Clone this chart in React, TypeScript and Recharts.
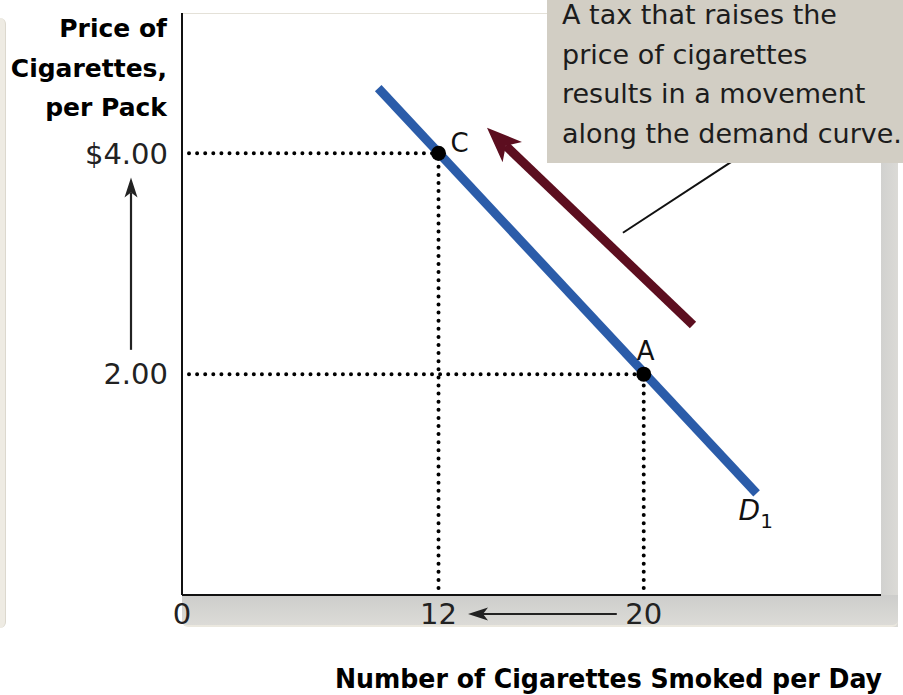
import { LineChart, Line, XAxis, YAxis, ReferenceLine, ReferenceDot } from 'recharts';

// market points: quantity smoked per day and price per pack
const pointNames = ['C', 'A'];
const pointQty = [12, 20];
const pointPrice = [4, 2];

// demand curve D1 (straight line through C and A)
const demandQty = [9.65, 24.4];
const demandPrice = [4.59, 0.92];

// movement along the curve caused by the tax (tail, head)
const moveQty = [21.92, 13.89];
const movePrice = [2.445, 4.23];

// pointer from the note down to the movement arrow
const calloutQty = [23.4, 19.19];
const calloutPrice = [3.92, 3.28];

// small arrows next to the axis labels
const priceRise = [2.22, 3.78];
const qtyFall = [18.95, 13.15];

const priceTicks = [2, 4];
const priceTickLabels: Record<number, string> = { 2: '2.00', 4: '$4.00' };
const qtyTicks = [12, 20];

const noteLines = [
  'A tax that raises the',
  'price of cigarettes',
  'results in a movement',
  'along the demand curve.',
];

// the quantity axis is not drawn to scale: its origin sits at this value and reads "0"
const QTY_START = 2;
const QTY_END = 29.25;
const PRICE_MAX = 5.27;

const W = 903;
const H = 695;
const PLOT = { left: 182, right: 881, top: 13, bottom: 595 };

const BLUE = '#2b5ca9';
const MAROON = '#5c0e1f';
const FONT = '"DejaVu Sans", sans-serif';

const xPx = (q: number) =>
  PLOT.left + ((q - QTY_START) / (QTY_END - QTY_START)) * (PLOT.right - PLOT.left);
const yPx = (p: number) => PLOT.bottom - (p / PRICE_MAX) * (PLOT.bottom - PLOT.top);

const demandData = demandQty.map((q, i) => ({ q, p: demandPrice[i] }));

// dotted guide, pulled back a little from the axis end (x1, y1)
const DottedGuide = (props: any) => {
  const { x1, y1, x2, y2 } = props;
  const len = Math.hypot(x2 - x1, y2 - y1) || 1;
  const gap = 7;
  const sx = x1 + ((x2 - x1) / len) * gap;
  const sy = y1 + ((y2 - y1) / len) * gap;
  return (
    <line
      x1={sx}
      y1={sy}
      x2={x2}
      y2={y2}
      stroke="#000"
      strokeWidth={4}
      strokeLinecap="round"
      strokeDasharray="0 8.1"
    />
  );
};

const MoveArrow = (props: any) => {
  const { x1, y1, x2, y2 } = props;
  const len = Math.hypot(x2 - x1, y2 - y1) || 1;
  const ux = (x2 - x1) / len;
  const uy = (y2 - y1) / len;
  const px = -uy;
  const py = ux;
  const headLen = 35;
  const halfW = 14;
  const notch = 26;
  const bx = x2 - ux * headLen;
  const by = y2 - uy * headLen;
  const nx = x2 - ux * notch;
  const ny = y2 - uy * notch;
  return (
    <g>
      <line x1={x1} y1={y1} x2={nx} y2={ny} stroke={MAROON} strokeWidth={9} />
      <polygon
        points={`${x2},${y2} ${bx + px * halfW},${by + py * halfW} ${nx},${ny} ${bx - px * halfW},${by - py * halfW}`}
        fill={MAROON}
      />
    </g>
  );
};

const CalloutLine = (props: any) => {
  const { x1, y1, x2, y2 } = props;
  return <line x1={x1} y1={y1} x2={x2} y2={y2} stroke="#111" strokeWidth={2} />;
};

const labelOffset: Record<string, [number, number]> = { C: [21, -1], A: [2, -14] };

const PointDot = (name: string) => (props: any) => {
  const { cx, cy } = props;
  const [dx, dy] = labelOffset[name];
  return (
    <g>
      <circle cx={cx} cy={cy} r={7.5} fill="#000" />
      <text
        x={cx + dx}
        y={cy + dy}
        textAnchor="middle"
        fontFamily={FONT}
        fontSize={26}
        fill="#111"
      >
        {name}
      </text>
    </g>
  );
};

const CurveName = (props: any) => {
  const { cx, cy } = props;
  return (
    <text x={cx - 18} y={cy + 27} fontFamily={FONT} fontSize={28} fontStyle="italic" fill="#111">
      D
      <tspan fontStyle="normal" fontSize={20} dy={8}>
        1
      </tspan>
    </text>
  );
};

const Arrow = ({ x1, y1, x2, y2 }: { x1: number; y1: number; x2: number; y2: number }) => {
  const len = Math.hypot(x2 - x1, y2 - y1) || 1;
  const ux = (x2 - x1) / len;
  const uy = (y2 - y1) / len;
  const px = -uy;
  const py = ux;
  const bx = x2 - ux * 20;
  const by = y2 - uy * 20;
  const nx = x2 - ux * 15;
  const ny = y2 - uy * 15;
  return (
    <g>
      <line x1={x1} y1={y1} x2={nx} y2={ny} stroke="#222" strokeWidth={2.2} />
      <polygon
        points={`${x2},${y2} ${bx + px * 6.5},${by + py * 6.5} ${nx},${ny} ${bx - px * 6.5},${by - py * 6.5}`}
        fill="#222"
      />
    </g>
  );
};

const tickStyle = { fontFamily: FONT, fontSize: 29, fill: '#222' };

export default function App() {
  return (
    <div style={{ position: 'absolute', left: 0, top: 0, width: W, height: H, background: '#fff' }}>
      {/* panel edge on the far left */}
      <div
        style={{
          position: 'absolute',
          left: 0,
          top: 18,
          width: 5,
          height: 610,
          background: '#eeebe3',
          borderRight: '1px solid #dcd8ce',
          borderRadius: '0 6px 6px 0',
        }}
      />
      {/* drop shadow of the graph panel */}
      <div
        style={{
          position: 'absolute',
          left: PLOT.right,
          top: 30,
          width: 17,
          height: 597,
          background: 'linear-gradient(to right, #d1d1cf, #dbdad6)',
        }}
      />
      <div
        style={{
          position: 'absolute',
          left: PLOT.left,
          top: PLOT.bottom,
          width: 898 - PLOT.left,
          height: 30,
          background: 'linear-gradient(to bottom, #cdcdcb, #dcdbd7)',
          borderBottom: '2px solid #ebe8df',
          borderRadius: '0 0 6px 6px',
        }}
      />
      <div
        style={{
          position: 'absolute',
          left: PLOT.left,
          top: PLOT.top,
          width: PLOT.right - PLOT.left,
          height: PLOT.bottom - PLOT.top,
          background: '#fff',
          borderTop: '1px solid #e4e1d8',
          boxSizing: 'border-box',
        }}
      />

      <div style={{ position: 'absolute', left: 0, top: 0 }}>
        <LineChart width={W} height={H} margin={{ top: PLOT.top, right: W - PLOT.right, bottom: 0, left: 0 }}>
          <XAxis
            type="number"
            dataKey="q"
            domain={[QTY_START, QTY_END]}
            ticks={[QTY_START, ...qtyTicks]}
            tickFormatter={(v: number) => (v === QTY_START ? '0' : String(v))}
            interval={0}
            height={H - PLOT.bottom}
            axisLine={{ stroke: '#111', strokeWidth: 2 }}
            tickLine={false}
            tick={tickStyle}
            allowDataOverflow
          />
          <YAxis
            type="number"
            domain={[0, PRICE_MAX]}
            ticks={priceTicks}
            tickFormatter={(v: number) => priceTickLabels[v] ?? String(v)}
            interval={0}
            width={PLOT.left}
            tickMargin={8}
            axisLine={{ stroke: '#111', strokeWidth: 2 }}
            tickLine={false}
            tick={tickStyle}
            allowDataOverflow
          />

          {pointQty.map((q, i) => (
            <ReferenceLine
              key={`h-${i}`}
              segment={[
                { x: QTY_START, y: pointPrice[i] },
                { x: q, y: pointPrice[i] },
              ]}
              shape={DottedGuide}
            />
          ))}
          {pointQty.map((q, i) => (
            <ReferenceLine
              key={`v-${i}`}
              segment={[
                { x: q, y: 0 },
                { x: q, y: pointPrice[i] },
              ]}
              shape={DottedGuide}
            />
          ))}

          <ReferenceLine
            segment={[
              { x: calloutQty[0], y: calloutPrice[0] },
              { x: calloutQty[1], y: calloutPrice[1] },
            ]}
            shape={CalloutLine}
          />
          <ReferenceLine
            segment={[
              { x: moveQty[0], y: movePrice[0] },
              { x: moveQty[1], y: movePrice[1] },
            ]}
            shape={MoveArrow}
          />

          <Line
            data={demandData}
            dataKey="p"
            type="linear"
            stroke={BLUE}
            strokeWidth={9}
            dot={false}
            activeDot={false}
            isAnimationActive={false}
          />

          {pointQty.map((q, i) => (
            <ReferenceDot
              key={pointNames[i]}
              x={q}
              y={pointPrice[i]}
              r={7.5}
              shape={PointDot(pointNames[i])}
            />
          ))}
          <ReferenceDot x={demandQty[1]} y={demandPrice[1]} r={0} shape={CurveName} />
        </LineChart>
      </div>

      {/* axis titles and the small direction arrows */}
      <svg
        width={W}
        height={H}
        style={{ position: 'absolute', left: 0, top: 0, pointerEvents: 'none' }}
      >
        <g fontFamily={FONT} fontWeight="bold" fontSize={25} fill="#000" textAnchor="end">
          <text x={167} y={37}>Price of</text>
          <text x={167} y={77}>Cigarettes,</text>
          <text x={167} y={116}>per Pack</text>
        </g>
        <text
          x={882}
          y={688}
          textAnchor="end"
          fontFamily='"DejaVu Sans Condensed", "DejaVu Sans", sans-serif'
          fontWeight="bold"
          fontSize={26}
          fill="#000"
          textLength={547}
          lengthAdjust="spacingAndGlyphs"
        >
          Number of Cigarettes Smoked per Day
        </text>
        <Arrow x1={131} y1={yPx(priceRise[0])} x2={131} y2={yPx(priceRise[1])} />
        <Arrow x1={xPx(qtyFall[0])} y1={614} x2={xPx(qtyFall[1])} y2={614} />
      </svg>

      {/* explanatory note */}
      <div
        style={{
          position: 'absolute',
          left: 547,
          top: 0,
          width: W - 547,
          height: 163,
          background: '#d2cec4',
          overflow: 'hidden',
        }}
      >
        <div
          style={{
            position: 'absolute',
            left: 15,
            top: -5,
            fontFamily: FONT,
            fontSize: 27,
            lineHeight: '39.5px',
            color: '#1c1c1c',
            whiteSpace: 'pre',
          }}
        >
          {noteLines.map((line) => (
            <div key={line}>{line}</div>
          ))}
        </div>
      </div>
    </div>
  );
}
